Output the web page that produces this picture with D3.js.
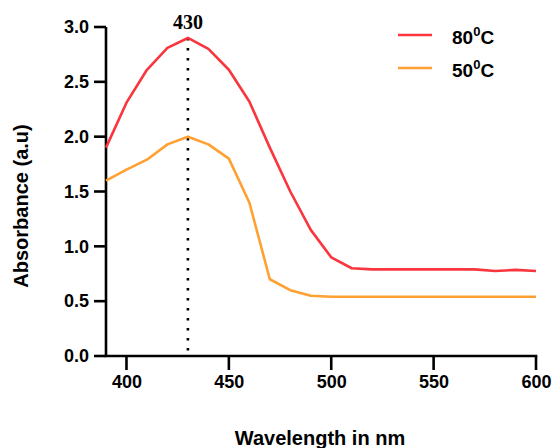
<!DOCTYPE html>
<html>
<head>
<meta charset="utf-8">
<script src="https://cdn.jsdelivr.net/npm/d3@7"></script>
<style>
  body { margin: 0; background: #fff; }
  text { font-family: "Liberation Sans", Arial, sans-serif; font-weight: bold; }
</style>
</head>
<body>
<div id="chart"></div>
<script>
const width = 554
const height = 448
const margin = {top: 27, right: 18, bottom: 92, left: 106}

const wavelengths = [390, 400, 410, 420, 430, 440, 450, 460, 470, 480, 490, 500, 510, 520, 530, 540, 550, 560, 570, 580, 590, 600]
const abs80 = [1.9, 2.31, 2.61, 2.81, 2.9, 2.8, 2.61, 2.32, 1.9, 1.5, 1.15, 0.9, 0.8, 0.79, 0.79, 0.79, 0.79, 0.79, 0.79, 0.775, 0.785, 0.775]
const abs50 = [1.6, 1.7, 1.79, 1.93, 2.0, 1.93, 1.8, 1.4, 0.7, 0.6, 0.55, 0.54, 0.54, 0.54, 0.54, 0.54, 0.54, 0.54, 0.54, 0.54, 0.54, 0.54]
const xTicks = [400, 450, 500, 550, 600]
const yTicks = [0, 0.5, 1.0, 1.5, 2.0, 2.5, 3.0]
const peak = 430
const seriesNames = ['80', '50']
const seriesColors = ['#f9353d', '#ffa032']

const svg = d3.select('#chart').append('svg')
  .attr('width', width)
  .attr('height', height)

const x = d3.scaleLinear().domain([390, 600]).range([margin.left, width - margin.right])
const y = d3.scaleLinear().domain([0, 3]).range([height - margin.bottom, margin.top])

// axis labels from d3 axes (tick marks drawn separately below)
const gx = svg.append('g')
  .attr('transform', `translate(0,${y(0)})`)
  .call(d3.axisBottom(x).tickValues(xTicks).tickSize(0).tickPadding(19).tickSizeOuter(0))
const gy = svg.append('g')
  .attr('transform', `translate(${x(390)},0)`)
  .call(d3.axisLeft(y).tickValues(yTicks).tickFormat(d3.format('.1f')).tickSize(0).tickPadding(17).tickSizeOuter(0))
;[gx, gy].forEach(g => {
  g.select('.domain').remove()
  g.selectAll('text').style('font-size', '18px').style('fill', '#000')
})

// axis lines and tick marks
const frame = svg.append('g')
  .attr('stroke', '#000')
  .attr('stroke-width', 2.6)
frame.append('line')
  .attr('x1', x(390) - 1.3).attr('x2', x(600) + 1.3)
  .attr('y1', y(0)).attr('y2', y(0))
frame.append('line')
  .attr('x1', x(390)).attr('x2', x(390))
  .attr('y1', y(3)).attr('y2', y(0))
frame.selectAll('.xt').data(xTicks).join('line')
  .attr('x1', d => x(d)).attr('x2', d => x(d))
  .attr('y1', y(0)).attr('y2', y(0) + 14)
frame.selectAll('.yt').data(yTicks).join('line')
  .attr('x1', x(390) - 12).attr('x2', x(390))
  .attr('y1', d => y(d)).attr('y2', d => y(d))

// peak marker
svg.append('line')
  .attr('x1', x(peak)).attr('x2', x(peak))
  .attr('y1', y(2.9)).attr('y2', y(0))
  .attr('stroke', '#000')
  .attr('stroke-width', 2.6)
  .attr('stroke-dasharray', '2.6,7.4')

svg.append('text')
  .attr('x', x(peak)).attr('y', 29)
  .attr('text-anchor', 'middle')
  .style('font-size', '20px')
  .style('font-family', '"Liberation Serif", "Times New Roman", serif')
  .text(peak)

// lines
const line = d3.line()
  .x((d, i) => x(wavelengths[i]))
  .y(d => y(d))

;[abs80, abs50].forEach((vals, i) => {
  svg.append('path')
    .datum(vals)
    .attr('fill', 'none')
    .attr('stroke', seriesColors[i])
    .attr('stroke-width', 2.6)
    .attr('stroke-linejoin', 'round')
    .attr('d', line)
})

// legend
const legend = svg.append('g')
seriesNames.forEach((name, i) => {
  const ly = 35 + i * 33
  legend.append('line')
    .attr('x1', 398).attr('x2', 432)
    .attr('y1', ly).attr('y2', ly)
    .attr('stroke', seriesColors[i])
    .attr('stroke-width', 2.6)
  const t = legend.append('text')
    .attr('x', 452).attr('y', ly + 9)
    .style('font-size', '19px')
  t.append('tspan').text(name)
  t.append('tspan').style('font-size', '13px').attr('dy', -8).text('0')
  t.append('tspan').attr('dy', 8).text('C')
})

// titles
svg.append('text')
  .attr('x', 320).attr('y', 445)
  .attr('text-anchor', 'middle')
  .style('font-size', '20px')
  .text('Wavelength in nm')

svg.append('text')
  .attr('transform', `translate(28,206) rotate(-90)`)
  .attr('text-anchor', 'middle')
  .style('font-size', '20px')
  .text('Absorbance (a.u)')
</script>
</body>
</html>
